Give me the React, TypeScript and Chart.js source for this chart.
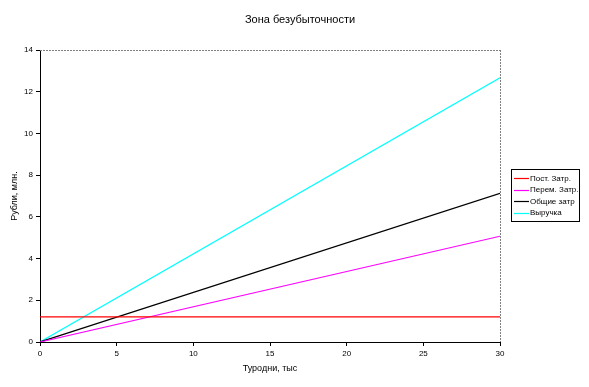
import React, { useEffect, useRef } from "react";
import { Chart, registerables } from "chart.js";

Chart.register(...registerables);

const chartTitle = "Зона безубыточности";
const xAxisTitle = "Туродни, тыс";
const yAxisTitle = "Рубли, млн.";

const xValues = [0, 30];
const fixedCosts = [1.2, 1.2];
const variableCosts = [0, 5.07];
const totalCosts = [0, 7.13];
const revenue = [0, 12.67];

const seriesLabels = ["Пост. Затр.", "Перем. Затр.", "Общие затр", "Выручка"];
const seriesColors = ["#ff0000", "#ff00ff", "#000000", "#00ffff"];
const seriesValues = [fixedCosts, variableCosts, totalCosts, revenue];

const FONT = "'Liberation Sans', Arial, sans-serif";

const decorPlugin = {
  id: "decor",
  afterDraw(chart: any) {
    const { ctx, chartArea } = chart;
    const { left, right, top, bottom } = chartArea;
    ctx.save();
    // dashed gray top/right borders
    ctx.strokeStyle = "#808080";
    ctx.lineWidth = 1;
    ctx.setLineDash([2, 1]);
    ctx.beginPath();
    ctx.moveTo(left, Math.round(top) + 0.5);
    ctx.lineTo(right, Math.round(top) + 0.5);
    ctx.moveTo(Math.round(right) + 0.5, top);
    ctx.lineTo(Math.round(right) + 0.5, bottom);
    ctx.stroke();
    ctx.setLineDash([]);

    // title
    ctx.fillStyle = "#000";
    ctx.font = `11px ${FONT}`;
    ctx.textAlign = "center";
    ctx.textBaseline = "middle";
    ctx.fillText(chartTitle, 300, 20);

    // axis titles
    ctx.font = `9px ${FONT}`;
    ctx.fillText(xAxisTitle, (left + right) / 2, 369);
    ctx.save();
    ctx.translate(15, (top + bottom) / 2);
    ctx.rotate(-Math.PI / 2);
    ctx.fillText(yAxisTitle, 0, 0);
    ctx.restore();

    // legend
    const bx = 511.5, by = 169.5, bw = 68, bh = 52;
    ctx.strokeStyle = "#000";
    ctx.lineWidth = 1;
    ctx.strokeRect(bx, by, bw, bh);
    ctx.font = `8px ${FONT}`;
    ctx.textAlign = "left";
    chart.data.datasets.forEach((ds: any, i: number) => {
      const y = 178 + i * 11.5;
      ctx.strokeStyle = ds.borderColor;
      ctx.lineWidth = 1.2;
      ctx.beginPath();
      ctx.moveTo(514, Math.round(y) + 0.5);
      ctx.lineTo(529, Math.round(y) + 0.5);
      ctx.stroke();
      ctx.fillStyle = "#000";
      ctx.fillText(ds.label, 530, y + 0.5);
    });
    ctx.restore();
  },
};

export default function App() {
  const ref = useRef<HTMLCanvasElement>(null);
  useEffect(() => {
    document.body.style.margin = "0";
    const chart = new Chart(ref.current!, {
      type: "line",
      data: {
        datasets: seriesLabels.map((label, i) => ({
          label,
          data: xValues.map((x, j) => ({ x, y: seriesValues[i][j] })),
          borderColor: seriesColors[i],
          backgroundColor: seriesColors[i],
          borderWidth: 1.2,
          pointRadius: 0,
          tension: 0,
        })),
      },
      options: {
        animation: false,
        responsive: false,
        events: [],
        layout: { padding: { left: 0, right: 89, top: 50, bottom: 0 } },
        plugins: { legend: { display: false }, title: { display: false }, tooltip: { enabled: false } },
        scales: {
          x: {
            type: "linear",
            min: 0,
            max: 30,
            afterFit: (s: any) => { s.height = 45; },
            border: { color: "#000", width: 1 },
            grid: { drawOnChartArea: false, color: "#000", tickLength: 4 },
            ticks: { stepSize: 5, color: "#000", font: { family: FONT, size: 8 }, padding: 3, maxRotation: 0 },
          },
          y: {
            min: 0,
            max: 14,
            afterFit: (s: any) => { s.width = 40; },
            border: { color: "#000", width: 1 },
            grid: { drawOnChartArea: false, color: "#000", tickLength: 4 },
            ticks: { stepSize: 2, color: "#000", font: { family: FONT, size: 8 }, padding: 3 },
          },
        },
      },
      plugins: [decorPlugin],
    });
    return () => chart.destroy();
  }, []);
  return (
    <div style={{ position: "absolute", left: 0, top: 0, width: 589, height: 387, background: "#fff" }}>
      <canvas ref={ref} width={589} height={387} style={{ width: 589, height: 387 }} />
    </div>
  );
}
